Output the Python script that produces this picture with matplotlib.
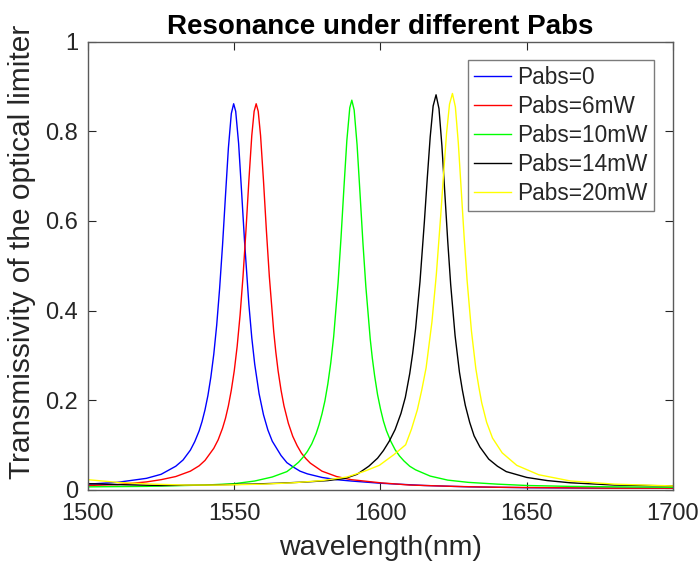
"""
Resonance of the optical limiter for several absorbed powers (Pabs).
Values were read off the reference figure.
"""

import matplotlib

matplotlib.use("Agg")

import matplotlib.pyplot as plt


# Pabs = 0
wl_0 = [1500, 1510, 1520, 1525, 1530, 1532.5, 1535, 1536.5, 1538, 1539, 1540,
        1541, 1542, 1543, 1544, 1545, 1546, 1547, 1548, 1549, 1549.8, 1550.5,
        1551.5, 1552.5, 1553.5, 1555, 1556, 1557, 1558.5, 1560, 1561.5, 1563,
        1566, 1568, 1570, 1572.5, 1575, 1580, 1585, 1590, 1600, 1615, 1630,
        1650, 1675, 1700]
t_0 = [0.012, 0.016, 0.025, 0.034, 0.052, 0.066, 0.088, 0.107, 0.131, 0.152,
       0.178, 0.210, 0.251, 0.302, 0.367, 0.449, 0.546, 0.656, 0.763, 0.840,
       0.862, 0.845, 0.773, 0.667, 0.557, 0.414, 0.339, 0.280, 0.214, 0.167,
       0.133, 0.108, 0.076, 0.060, 0.051, 0.041, 0.035, 0.027, 0.022, 0.019,
       0.014, 0.009, 0.006, 0.004, 0.003, 0.003]

# Pabs = 6 mW
wl_6 = [1500, 1510, 1520, 1525, 1530, 1535, 1538, 1540, 1543, 1544.5, 1546,
        1547, 1548, 1549, 1550, 1551, 1552, 1553, 1554, 1555, 1556, 1556.8,
        1557.5, 1558.2, 1559, 1560, 1561, 1562, 1563.5, 1564.2, 1565, 1566,
        1567, 1568.5, 1570, 1571.5, 1573, 1574.5, 1576, 1580, 1585, 1590, 1600,
        1610, 1625, 1640, 1660, 1680, 1700]
t_6 = [0.009, 0.011, 0.017, 0.022, 0.029, 0.041, 0.053, 0.065, 0.092, 0.111,
       0.137, 0.159, 0.187, 0.222, 0.265, 0.320, 0.390, 0.476, 0.578, 0.690,
       0.791, 0.845, 0.862, 0.845, 0.791, 0.690, 0.578, 0.476, 0.353, 0.308,
       0.265, 0.222, 0.187, 0.148, 0.119, 0.098, 0.081, 0.069, 0.059, 0.041,
       0.029, 0.022, 0.015, 0.010, 0.007, 0.005, 0.004, 0.003, 0.003]

# Pabs = 10 mW
wl_10 = [1500, 1520, 1540, 1550, 1557, 1563, 1568, 1570, 1572, 1573.5, 1575,
         1576.5, 1578, 1579, 1580, 1581, 1582, 1583, 1584, 1585.5, 1586.5,
         1587.5, 1588.5, 1589.5, 1590.2, 1591, 1592, 1593, 1594, 1595, 1596.5,
         1597.2, 1598, 1599, 1600, 1601, 1602, 1603.5, 1605, 1606.5, 1608,
         1610, 1612, 1617, 1623, 1630, 1640, 1650, 1665, 1680, 1700]
t_10 = [0.006, 0.007, 0.010, 0.013, 0.019, 0.028, 0.040, 0.050, 0.061, 0.072,
        0.085, 0.102, 0.125, 0.145, 0.169, 0.198, 0.236, 0.283, 0.342, 0.462,
        0.562, 0.674, 0.780, 0.853, 0.870, 0.848, 0.770, 0.662, 0.551, 0.453,
        0.336, 0.294, 0.254, 0.212, 0.180, 0.153, 0.132, 0.108, 0.089, 0.075,
        0.064, 0.052, 0.044, 0.030, 0.021, 0.016, 0.012, 0.009, 0.007, 0.006,
        0.005]

# Pabs = 14 mW
wl_14 = [1500, 1510, 1525, 1540, 1555, 1565, 1575, 1582, 1588, 1592, 1596,
         1599, 1601, 1603, 1605, 1607, 1608.5, 1610, 1611, 1612, 1613.5, 1615,
         1616, 1617, 1618, 1619, 1620, 1621, 1622, 1623, 1624, 1625.5, 1627,
         1628, 1629, 1630.5, 1632, 1634, 1637, 1640, 1643, 1650, 1657, 1665,
         1680, 1700]
t_14 = [0.013, 0.011, 0.009, 0.010, 0.012, 0.014, 0.017, 0.020, 0.025, 0.034,
        0.052, 0.070, 0.087, 0.108, 0.134, 0.170, 0.206, 0.259, 0.304, 0.359,
        0.464, 0.598, 0.696, 0.788, 0.857, 0.882, 0.851, 0.768, 0.662, 0.554,
        0.458, 0.344, 0.262, 0.222, 0.188, 0.150, 0.120, 0.095, 0.068, 0.052,
        0.040, 0.027, 0.020, 0.015, 0.010, 0.008]

# Pabs = 20 mW
wl_20 = [1500, 1510, 1522, 1533, 1545, 1560, 1570, 1580, 1588.6, 1594.6,
         1599.6, 1604.6, 1608.6, 1610.6, 1612.6, 1614.1, 1615.6, 1617.6,
         1619.1, 1620.6, 1621.6, 1622.6, 1623.6, 1624.6, 1625.6, 1626.6,
         1627.6, 1628.6, 1629.6, 1631.1, 1632.6, 1633.6, 1634.6, 1636.3,
         1638.3, 1641.6, 1646.6, 1654.1, 1665, 1680, 1690, 1700]
t_20 = [0.022, 0.016, 0.012, 0.010, 0.010, 0.012, 0.015, 0.020, 0.028, 0.041,
        0.054, 0.078, 0.100, 0.135, 0.178, 0.222, 0.272, 0.375, 0.481, 0.613,
        0.708, 0.797, 0.861, 0.885, 0.855, 0.775, 0.670, 0.564, 0.468, 0.354,
        0.270, 0.230, 0.194, 0.150, 0.115, 0.082, 0.054, 0.033, 0.019, 0.012,
        0.010, 0.008]

SERIES = [
    (wl_0, t_0, "Pabs=0", "#0000ff"),
    (wl_6, t_6, "Pabs=6mW", "#ff0000"),
    (wl_10, t_10, "Pabs=10mW", "#00ff00"),
    (wl_14, t_14, "Pabs=14mW", "#000000"),
    (wl_20, t_20, "Pabs=20mW", "#ffff00"),
]

X_TICKS = [1500, 1550, 1600, 1650, 1700]
Y_TICKS = [0, 0.2, 0.4, 0.6, 0.8, 1]
Y_TICK_LABELS = ["0", "0.2", "0.4", "0.6", "0.8", "1"]

AXIS_GRAY = "#262626"

plt.rcParams["font.family"] = ["Liberation Sans", "DejaVu Sans"]

fig = plt.figure(figsize=(7.0, 5.72), dpi=100)
ax = fig.add_axes([0.1257, 0.1442, 0.8357, 0.7824])

for wl, t, label, color in SERIES:
    ax.plot(wl, t, color=color, lw=1.0, label=label)

ax.set_xlim(1500, 1700)
ax.set_ylim(0, 1)
ax.set_xticks(X_TICKS)
ax.set_yticks(Y_TICKS)
ax.set_yticklabels(Y_TICK_LABELS)

# MATLAB-like box with inward ticks on all sides
ax.tick_params(direction="in", length=6, width=0.8, top=True, right=True,
               labelsize=17, colors=AXIS_GRAY, pad=7)
ax.tick_params(axis="x", pad=10)
for side in ax.spines.values():
    side.set_color("#5a5a5a")
    side.set_linewidth(1.0)

ax.set_xlabel("wavelength(nm)", fontsize=20.5, color=AXIS_GRAY, labelpad=7)
ax.set_ylabel("Transmissivity of the optical limiter", fontsize=21.5,
              color=AXIS_GRAY)
ax.yaxis.set_label_coords(-0.089, 0.53)
ax.set_title("Resonance under different Pabs", fontsize=20,
             fontweight="bold", pad=6)

leg = ax.legend(loc="upper right", bbox_to_anchor=(0.968, 0.96),
                borderaxespad=0, fontsize=16.3, frameon=True, fancybox=False,
                handlelength=1.6, handletextpad=0.3, labelspacing=0.26,
                borderpad=0.28)
leg.get_frame().set_edgecolor("#5a5a5a")
leg.get_frame().set_linewidth(1.0)
for txt in leg.get_texts():
    txt.set_color(AXIS_GRAY)

fig.savefig("out.png", dpi=100)
plt.close(fig)
